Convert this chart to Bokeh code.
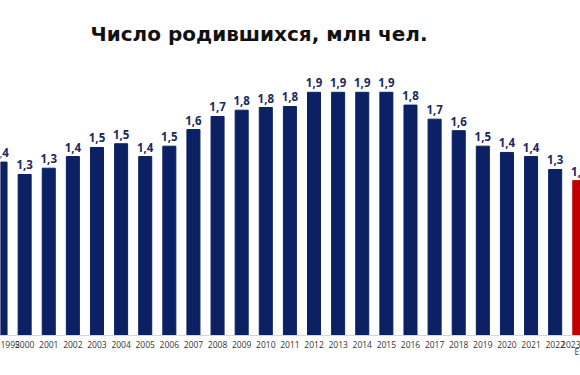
from bokeh.plotting import figure
from bokeh.models import ColumnDataSource, Range1d, FixedTicker, Label, LinearAxis
from bokeh.core.properties import value
from bokeh.embed import file_html
from bokeh.resources import INLINE

# ---- data ----
years = ["1995", "2000", "2001", "2002", "2003", "2004", "2005", "2006", "2007",
         "2008", "2009", "2010", "2011", "2012", "2013", "2014", "2015", "2016",
         "2017", "2018", "2019", "2020", "2021", "2022", "2023"]
births = [1.355, 1.258, 1.307, 1.398, 1.469, 1.498, 1.398, 1.479, 1.609,
          1.711, 1.760, 1.781, 1.789, 1.900, 1.900, 1.900, 1.900, 1.800,
          1.690, 1.600, 1.479, 1.430, 1.398, 1.297, 1.210]
value_labels = ["1,4", "1,3", "1,3", "1,4", "1,5", "1,5", "1,4", "1,5", "1,6",
                "1,7", "1,8", "1,8", "1,8", "1,9", "1,9", "1,9", "1,9", "1,8",
                "1,7", "1,6", "1,5", "1,4", "1,4", "1,3", "1,2"]
note_year = "2023"
note_text = "E"
title_text = "Число родившихся, млн чел."

NAVY = "#0c2163"
RED = "#c00000"
LABEL_NAVY = "#1b2a5c"
FONT = "Open Sans"

xs = list(range(len(years)))
colors = [RED if y == note_year else NAVY for y in years]

src = ColumnDataSource(dict(x=xs, top=births, label=value_labels, color=colors))

p = figure(width=580, height=375, output_backend="svg", toolbar_location=None,
           x_range=Range1d(-0.001, 24.05), y_range=Range1d(0, 2.617),
           x_axis_location=None, y_axis_location=None,
           min_border_left=0, min_border_right=0,
           min_border_top=0, min_border_bottom=40)
p.outline_line_color = None
p.xgrid.visible = False
p.ygrid.visible = False
p.background_fill_color = "white"
p.border_fill_color = "white"

p.vbar(x="x", top="top", bottom=0, width=0.54, color="color", source=src)

p.text(x="x", y="top", text="label", source=src, text_align="center",
       text_baseline="middle", y_offset=-9.5,
       text_font=value(FONT), text_font_style="bold", text_font_size="11.5px",
       text_color=LABEL_NAVY)

# year axis
ax = LinearAxis(ticker=FixedTicker(ticks=xs),
                major_label_overrides={i: y for i, y in enumerate(years)})
ax.major_label_text_font = FONT
ax.major_label_text_font_size = "8.5px"
ax.major_label_text_color = "#333333"
ax.major_label_standoff = 5
ax.axis_line_color = "#d6d6d6"
ax.major_tick_line_color = None
ax.major_tick_out = 0
ax.major_tick_in = 0
ax.minor_tick_line_color = None
ax.minor_tick_out = 0
p.add_layout(ax, "below")

# second row under the last year label
note_idx = years.index(note_year)
ax2 = LinearAxis(ticker=FixedTicker(ticks=[note_idx]),
                 major_label_overrides={note_idx: note_text})
ax2.major_label_text_font = FONT
ax2.major_label_text_font_size = "8.5px"
ax2.major_label_text_color = "#333333"
ax2.major_label_standoff = -5
ax2.axis_line_color = None
ax2.major_tick_line_color = None
ax2.major_tick_out = 0
ax2.major_tick_in = 0
ax2.minor_tick_line_color = None
ax2.minor_tick_out = 0
p.add_layout(ax2, "below")

p.add_layout(Label(x=10.72, y=2.352, text=title_text, text_align="center",
                   text_baseline="middle", text_font="DejaVu Sans",
                   text_font_style="bold", text_font_size="20px",
                   text_color="#111111"))

open("out.html", "w").write(file_html(p, INLINE))
